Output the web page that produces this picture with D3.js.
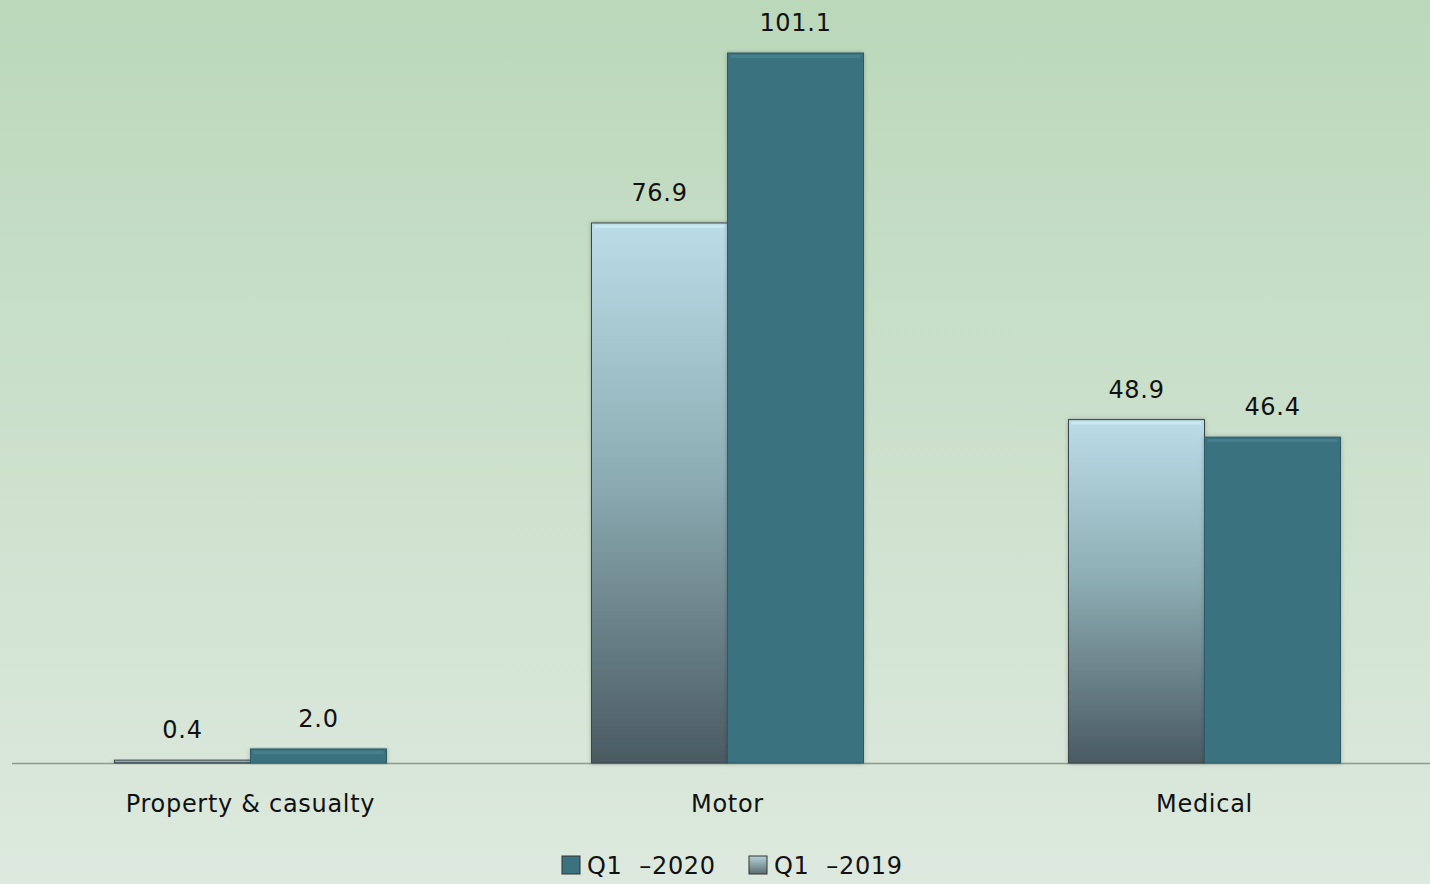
<!DOCTYPE html>
<html>
<head>
<meta charset="utf-8">
<script src="https://cdn.jsdelivr.net/npm/d3@7"></script>
<style>
  html, body { margin: 0; padding: 0; }
  body { width: 1430px; height: 884px; overflow: hidden; }
  text { font-family: "DejaVu Sans", Verdana, sans-serif; fill: #111; letter-spacing: 0.7px; white-space: pre; }
</style>
</head>
<body>
<div id="chart"></div>
<script>
const categories = ["Property & casualty", "Motor", "Medical"];
const seriesNames = ["Q1  –2019", "Q1  –2020"];
const values2019 = [0.4, 76.9, 48.9];
const values2020 = [2.0, 101.1, 46.4];
const legendOrder = ["Q1  –2020", "Q1  –2019"];

const width = 1430, height = 884;
const baseY = 763;

const svg = d3.select("#chart").append("svg")
    .attr("width", width)
    .attr("height", height);

const defs = svg.append("defs");

// background gradient
const bg = defs.append("linearGradient")
    .attr("id", "bg").attr("x1", 0).attr("y1", 0).attr("x2", 0).attr("y2", 1);
bg.append("stop").attr("offset", "0%").attr("stop-color", "#bbd8bb");
bg.append("stop").attr("offset", "100%").attr("stop-color", "#dde9de");

// light bar gradient
const lg = defs.append("linearGradient")
    .attr("id", "lightBar").attr("x1", 0).attr("y1", 0).attr("x2", 0).attr("y2", 1);
lg.append("stop").attr("offset", "0%").attr("stop-color", "#bcdde8");
lg.append("stop").attr("offset", "45%").attr("stop-color", "#8fafb6");
lg.append("stop").attr("offset", "100%").attr("stop-color", "#4a5a62");

// legend square gradient
const lsg = defs.append("linearGradient")
    .attr("id", "lightSwatch").attr("x1", 0).attr("y1", 0).attr("x2", 0).attr("y2", 1);
lsg.append("stop").attr("offset", "0%").attr("stop-color", "#b6d3da");
lsg.append("stop").attr("offset", "100%").attr("stop-color", "#5a6c72");

const shadow = defs.append("filter").attr("id", "shadow")
    .attr("x", "-10%").attr("y", "-10%").attr("width", "120%").attr("height", "120%");
shadow.append("feDropShadow").attr("dx", 0).attr("dy", 0).attr("stdDeviation", 2)
    .attr("flood-color", "#000").attr("flood-opacity", 0.25);

svg.append("rect").attr("width", width).attr("height", height).attr("fill", "url(#bg)");

const x0 = d3.scaleBand().domain(categories).range([12, 1443]).paddingInner(0).paddingOuter(0);
const groupW = 272;
const x1 = d3.scaleBand().domain(seriesNames)
    .range([(x0.bandwidth() - groupW) / 2, (x0.bandwidth() + groupW) / 2]);
const y = d3.scaleLinear().domain([0, 101.1]).range([baseY, 53]);

const data = categories.map((c, i) => ({
    cat: c,
    vals: [
        { s: seriesNames[0], v: values2019[i] },
        { s: seriesNames[1], v: values2020[i] }
    ]
}));

// axis line
svg.append("line")
    .attr("x1", 12).attr("x2", width)
    .attr("y1", baseY + 0.5).attr("y2", baseY + 0.5)
    .attr("stroke", "#8f9a94").attr("stroke-width", 1.5);

const groups = svg.selectAll("g.cat")
    .data(data)
    .enter().append("g")
    .attr("class", "cat")
    .attr("transform", d => "translate(" + x0(d.cat) + ",0)");

const isDark = s => s === seriesNames[1];

groups.selectAll("rect.bar")
    .data(d => d.vals)
    .enter().append("rect")
    .attr("class", "bar")
    .attr("x", d => x1(d.s))
    .attr("y", d => y(d.v))
    .attr("width", x1.bandwidth())
    .attr("height", d => Math.max(baseY - y(d.v), 2))
    .attr("fill", d => isDark(d.s) ? "#3b7280" : "url(#lightBar)")
    .attr("stroke", d => isDark(d.s) ? "#2d5a66" : "#3a4448")
    .attr("stroke-width", 1)
    .attr("filter", "url(#shadow)");

// top bevel highlight
groups.selectAll("rect.hl")
    .data(d => d.vals.filter(v => baseY - y(v.v) > 10))
    .enter().append("rect")
    .attr("class", "hl")
    .attr("x", d => x1(d.s) + 3)
    .attr("y", d => y(d.v) + 2)
    .attr("width", x1.bandwidth() - 6)
    .attr("height", 3)
    .attr("fill", d => isDark(d.s) ? "#4a8290" : "#cdebf2")
    .attr("opacity", 0.8);

groups.selectAll("text.val")
    .data(d => d.vals)
    .enter().append("text")
    .attr("class", "val")
    .attr("x", d => x1(d.s) + x1.bandwidth() / 2)
    .attr("y", d => y(d.v) - 22)
    .attr("text-anchor", "middle")
    .attr("font-size", 24)
    .text(d => d.v.toFixed(1));

svg.selectAll("text.cat")
    .data(categories)
    .enter().append("text")
    .attr("class", "cat")
    .attr("x", d => x0(d) + x0.bandwidth() / 2)
    .attr("y", 812)
    .attr("text-anchor", "middle")
    .attr("font-size", 24)
    .text(d => d);

// legend
const legend = svg.append("g").attr("transform", "translate(562,856)");
const legX = [0, 187];
legendOrder.forEach((name, i) => {
    const g = legend.append("g").attr("transform", "translate(" + legX[i] + ",0)");
    g.append("rect")
        .attr("x", 0).attr("y", 0).attr("width", 18).attr("height", 18)
        .attr("fill", isDark(name) ? "#3b7280" : "url(#lightSwatch)")
        .attr("stroke", "#333").attr("stroke-width", 1);
    g.append("text")
        .attr("x", 25).attr("y", 18)
        .attr("font-size", 24)
        .text(name);
});
</script>
</body>
</html>
